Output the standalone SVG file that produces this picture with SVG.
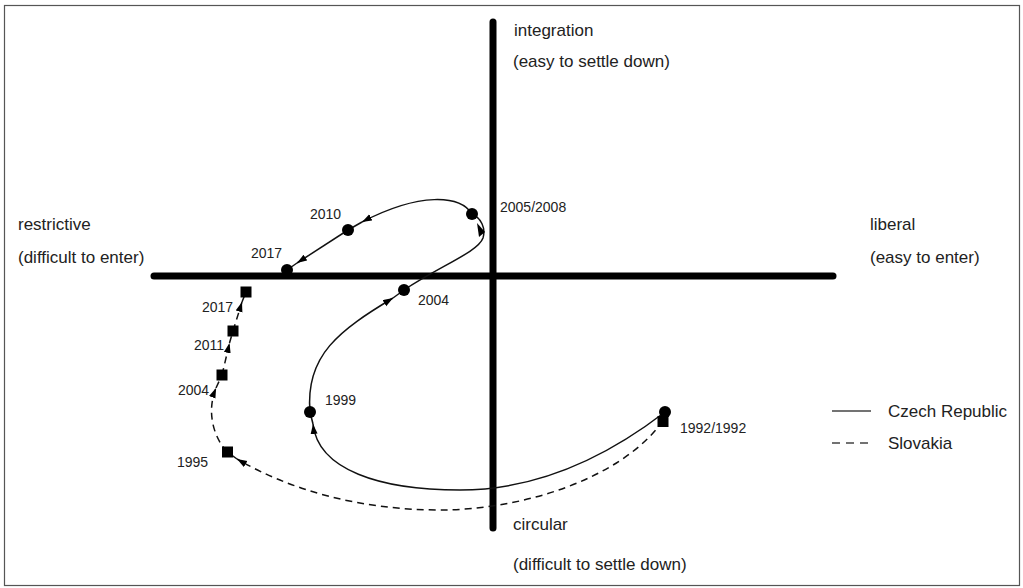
<svg xmlns="http://www.w3.org/2000/svg" width="1023" height="588" viewBox="0 0 1023 588">
<style>
.lbl{font-family:"Liberation Sans",Arial,sans-serif;font-size:17px;fill:#222}
.yr{font-family:"Liberation Sans",Arial,sans-serif;font-size:14px;fill:#222}
.axis{stroke:#000;stroke-width:7;stroke-linecap:round;fill:none}
.cz{stroke:#111;stroke-width:1.5;fill:none}
.sk{stroke:#111;stroke-width:1.5;fill:none;stroke-dasharray:7 5}
.dot{fill:#000}
</style>
<defs>
<marker id="ah" markerUnits="userSpaceOnUse" markerWidth="11" markerHeight="8" refX="10" refY="3.5" orient="auto">
<path d="M0,0 L10,3.5 L0,7 z" fill="#000"/>
</marker>
</defs>
<rect x="4.5" y="5.5" width="1015" height="580" fill="#fff" stroke="#555" stroke-width="1.2"/>
<g id="axes">
<line class="axis" x1="493" y1="22" x2="493" y2="528"/>
<line class="axis" x1="154" y1="276" x2="833" y2="276"/>
</g>
<g id="axis-labels">
<text class="lbl" x="514" y="36">integration</text>
<text class="lbl" x="513" y="67">(easy to settle down)</text>
<text class="lbl" x="513" y="530">circular</text>
<text class="lbl" x="513" y="570">(difficult to settle down)</text>
<text class="lbl" x="18" y="230">restrictive</text>
<text class="lbl" x="18" y="263">(difficult to enter)</text>
<text class="lbl" x="870" y="230">liberal</text>
<text class="lbl" x="870" y="263">(easy to enter)</text>
</g>
<g id="connectors">
<path class="cz" d="M665,412 C600,462 530,490 460,490 C380,490 318,470 313,424" marker-end="url(#ah)"/>
<path class="cz" d="M313,424 L310,412"/>
<path class="cz" d="M310,412 C305,355 340,330 393,298" marker-end="url(#ah)"/>
<path class="cz" d="M393,298 L404,290"/>
<path class="cz" d="M404,290 C440,266 478,252 483,238 C486,228 481,218 472,214"/>
<polygon points="477,223 485,232 479,237" fill="#000"/>
<path class="cz" d="M472,214 C460,195 420,192 362,222" marker-end="url(#ah)"/>
<path class="cz" d="M362,222 L348,230"/>
<path class="cz" d="M348,230 L297,263" marker-end="url(#ah)"/>
<path class="cz" d="M297,263 L287,270"/>
<path class="sk" d="M663,421 C620,480 520,510 440,510 C360,510 290,490 237,459" marker-end="url(#ah)"/>
<path class="sk" d="M237,459 L227,452"/>
<path class="sk" d="M227,452 C212,435 207,410 216,388" marker-end="url(#ah)"/>
<path class="sk" d="M216,388 L222,375"/>
<path class="sk" d="M222,375 L229.5,343" marker-end="url(#ah)"/>
<path class="sk" d="M229.5,343 L233,331"/>
<path class="sk" d="M233,331 L242,302" marker-end="url(#ah)"/>
<path class="sk" d="M242,302 L246,292"/>
</g>
<g id="czech-nodes">
<g id="cz-1992"><circle class="dot" cx="665" cy="412" r="6"/></g>
<g id="cz-1999"><circle class="dot" cx="310" cy="412" r="6"/><text class="yr" x="325" y="405">1999</text></g>
<g id="cz-2004"><circle class="dot" cx="404" cy="290" r="6"/><text class="yr" x="418" y="305">2004</text></g>
<g id="cz-2005"><circle class="dot" cx="472" cy="214" r="6"/><text class="yr" x="500" y="212">2005/2008</text></g>
<g id="cz-2010"><circle class="dot" cx="348" cy="230" r="6"/><text class="yr" x="310" y="219">2010</text></g>
<g id="cz-2017"><circle class="dot" cx="287" cy="270" r="6"/><text class="yr" x="251" y="258">2017</text></g>
</g>
<g id="slovak-nodes">
<g id="sk-1992"><rect class="dot" x="657.5" y="416" width="11" height="11"/><text class="yr" x="680" y="433">1992/1992</text></g>
<g id="sk-1995"><rect class="dot" x="222" y="446.5" width="11" height="11"/><text class="yr" x="177" y="467">1995</text></g>
<g id="sk-2004"><rect class="dot" x="216.5" y="369.5" width="11" height="11"/><text class="yr" x="178" y="395">2004</text></g>
<g id="sk-2011"><rect class="dot" x="227.5" y="325.5" width="11" height="11"/><text class="yr" x="194" y="350">2011</text></g>
<g id="sk-2017"><rect class="dot" x="240.5" y="286.5" width="11" height="11"/><text class="yr" x="202" y="312">2017</text></g>
</g>
<g id="legend">
<line x1="832" y1="411" x2="871" y2="411" stroke="#444" stroke-width="1.5"/>
<text class="lbl" x="888" y="417">Czech Republic</text>
<line x1="832" y1="443" x2="871" y2="443" stroke="#444" stroke-width="1.5" stroke-dasharray="8 6"/>
<text class="lbl" x="888" y="449">Slovakia</text>
</g>
</svg>
